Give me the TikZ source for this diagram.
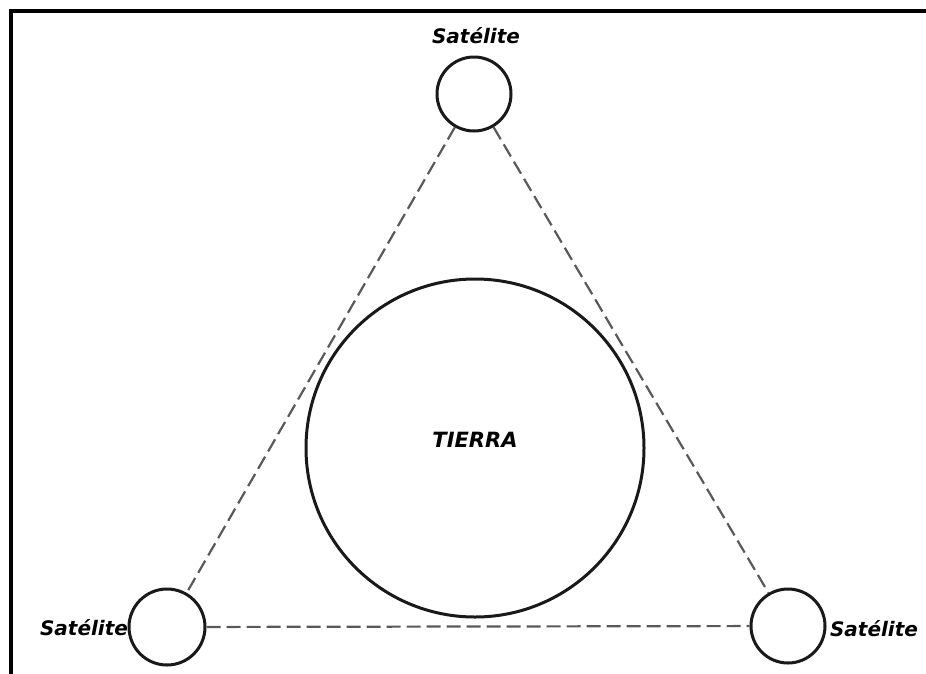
\documentclass[tikz,border=0pt]{standalone}
\usepackage{fontspec}
\newfontfamily\labfont{DejaVu Sans}
\begin{document}
\begin{tikzpicture}[x=1pt,y=-1pt,
  body/.style={circle,draw=black!90,line width=3pt,inner sep=0pt},
  link/.style={draw=black!65,line width=2.2pt,dash pattern=on 14pt off 6pt},
  lab/.style={font=\labfont\bfseries\itshape\fontsize{20}{20}\selectfont}]
\useasboundingbox (0,0) rectangle (926,673);
\clip (0,0) rectangle (926,673);
\draw[line width=3.5pt] (11,700) -- (11,11) -- (940,11);
\node[body,minimum size=338pt] (earth) at (475,448) {};
\node[lab,font=\labfont\bfseries\itshape\fontsize{21}{21}\selectfont] (tierra) at (475,440) {TIERRA};
\node[body,minimum size=74pt] (s1) at (474,94) {};
\node[body,minimum size=76pt] (s2) at (167,627) {};
\node[body,minimum size=74pt] (s3) at (788,626) {};
\node[lab] (l1) at (476,36) {Satélite};
\node[lab] (l2) at (84,628) {Satélite};
\node[lab] (l3) at (874,629) {Satélite};
\draw[link] (s1) -- (s2);
\draw[link] (s1) -- (s3);
\draw[link] (s2) -- (s3);
\end{tikzpicture}
\end{document}
